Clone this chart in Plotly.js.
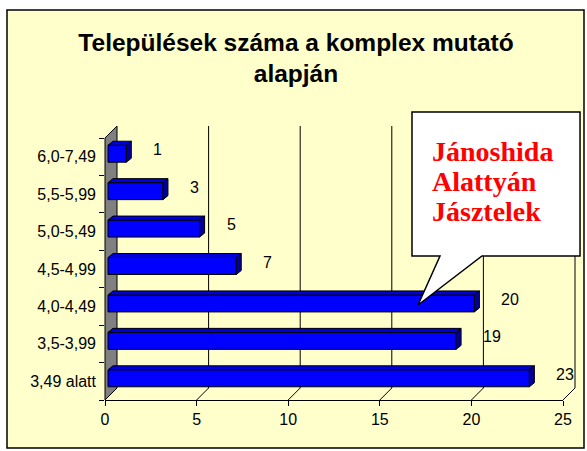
<!DOCTYPE html>
<html><head><meta charset="utf-8">
<script src="https://cdn.plot.ly/plotly-3.0.1.min.js"></script>
<style>html,body{margin:0;padding:0;background:#fff}#chart{width:587px;height:451px}</style>
</head><body><div id="chart"></div>
<script>
// ---- data ----
const categories = ["3,49 alatt","3,5-3,99","4,0-4,49","4,5-4,99","5,0-5,49","5,5-5,99","6,0-7,49"];
const counts = [23, 19, 20, 7, 5, 3, 1];
const xTicks = [0, 5, 10, 15, 20, 25];
const calloutTowns = ["Jánoshida", "Alattyán", "Jásztelek"];
const titleText = "Települések száma a komplex mutató<br>alapján";

// ---- geometry (pixels) ----
const W = 587, H = 451;
const FX0 = 105, FX1 = 563, FYB = 400, FYT = 138, DEPTH = 12;
const PL = 100, PR = 582, PT = 120, PB = 404;
const PW = PR - PL, PH = PB - PT;
const XMAX = xTicks[xTicks.length - 1];
const NC = categories.length;
const PXU = (FX1 - FX0) / XMAX;
const PXC = (FYB - FYT) / NC;
const ux = p => p / PXU, uy = p => p / PXC;
const BAR_W = uy(17), BAR_BASE = ux(3), BAR_LIFT = uy(3), BDX = ux(5), BDY = uy(4);
const WDX = ux(DEPTH), WDY = uy(DEPTH);
const px2x = px => (px - PL) / PW, px2y = py => (PB - py) / PH;
const f = v => v.toFixed(4);
const FONT = "Arial, 'Liberation Sans', sans-serif";
const SERIF = "'Times New Roman', 'Liberation Serif', serif";

const shapes = [];
// chart frame
shapes.push({type:'rect', xref:'paper', yref:'paper', layer:'below',
  x0:px2x(7), x1:px2x(584), y0:px2y(448), y1:px2y(10),
  fillcolor:'#FFFFCC', line:{color:'#000', width:1.5}});
// wall
shapes.push({type:'path', xref:'x', yref:'y', layer:'below',
  path:`M0,${f(-0.5)} L${f(WDX)},${f(-0.5+WDY)} L${f(WDX)},${f(NC-0.5+WDY)} L0,${f(NC-0.5)} Z`,
  fillcolor:'#808080', line:{color:'#000', width:1}});
// floor lines + back gridlines
xTicks.forEach(t => {
  if (t === 0) return;
  shapes.push({type:'line', xref:'x', yref:'y', layer:'below',
    x0:t, y0:-0.5, x1:t+WDX, y1:-0.5+WDY, line:{color:'#000', width:1}});
  shapes.push({type:'line', xref:'x', yref:'y', layer:'below',
    x0:t+WDX, y0:-0.5+WDY, x1:t+WDX, y1:NC-0.5+WDY, line:{color:'#000', width:1}});
});
// 3D faces of bars
counts.forEach((v, i) => {
  const y0 = i - BAR_W/2 + BAR_LIFT, y1 = y0 + BAR_W;
  const x0 = BAR_BASE, x1 = BAR_BASE + v;
  shapes.push({type:'path', xref:'x2', yref:'y2', layer:'above',
    path:`M${f(x0)},${f(y1)} L${f(x1)},${f(y1)} L${f(x1+BDX)},${f(y1+BDY)} L${f(x0+BDX)},${f(y1+BDY)} Z`,
    fillcolor:'#0000DD', line:{color:'#000', width:1}});
  shapes.push({type:'path', xref:'x2', yref:'y2', layer:'above',
    path:`M${f(x1)},${f(y0)} L${f(x1)},${f(y1)} L${f(x1+BDX)},${f(y1+BDY)} L${f(x1+BDX)},${f(y0+BDY)} Z`,
    fillcolor:'#000099', line:{color:'#000', width:1}});
});
// callout
const co = [[412,112],[580,112],[580,256],[482,256],[418,305],[440,256],[412,256]];
shapes.push({type:'path', xref:'paper', yref:'paper', layer:'above',
  path: co.map((p, k) => (k ? 'L' : 'M') + f(px2x(p[0])) + ',' + f(px2y(p[1]))).join(' ') + ' Z',
  fillcolor:'#FFFFFF', line:{color:'#000', width:1.5}});

const annotations = [];
counts.forEach((v, i) => {
  annotations.push({xref:'x2', yref:'y2', x: BAR_BASE + v + BDX, y: categories[i],
    xanchor:'left', yanchor:'middle', xshift:20, yshift:7, showarrow:false,
    text:String(v), font:{family:FONT, size:16, color:'#000'}});
});
calloutTowns.forEach((t, k) => {
  annotations.push({xref:'paper', yref:'paper', x: px2x(430), y: px2y(151.5 + 30*k),
    xanchor:'left', yanchor:'middle', showarrow:false,
    text:t, font:{family:SERIF, size:28, color:'#FF0000', weight:'bold'}});
});

const data = [{
  type:'bar', orientation:'h', x:counts, y:categories, xaxis:'x2', yaxis:'y2',
  base:BAR_BASE, width:BAR_W, offset:-BAR_W/2 + BAR_LIFT,
  marker:{color:'#0000FF', line:{color:'#000', width:1}}, hoverinfo:'skip'
}];

const layout = {
  width:W, height:H,
  margin:{l:PL, r:W-PR, t:PT, b:H-PB, pad:0},
  paper_bgcolor:'#FFFFFF', plot_bgcolor:'rgba(0,0,0,0)',
  showlegend:false, hovermode:false,
  title:{text:titleText, x:296/W, xref:'container', xanchor:'center',
    y:1 - 50.5/H, yref:'container', yanchor:'top',
    font:{family:FONT, size:24.5, color:'#000', weight:'bold'}},
  xaxis:{domain:[0,1], anchor:'y', range:[ux(PL-FX0), ux(PR-FX0)], visible:false, fixedrange:true},
  yaxis:{domain:[0,1], anchor:'x', type:'linear', range:[-0.5+uy(FYB-PB), -0.5+uy(FYB-PT)], visible:false, fixedrange:true},
  xaxis2:{domain:[px2x(FX0), px2x(FX1)], anchor:'y2', range:[0, XMAX], tickvals:xTicks,
    ticks:'outside', ticklen:5, tickwidth:1, tickcolor:'#000',
    showline:true, linecolor:'#000', linewidth:1, showgrid:false, zeroline:false,
    tickfont:{family:FONT, size:16, color:'#000'}, fixedrange:true},
  yaxis2:{domain:[px2y(FYB), px2y(FYT)], anchor:'x2', type:'category',
    categoryorder:'array', categoryarray:categories, range:[-0.5, NC-0.5],
    tickson:'boundaries', ticks:'outside', ticklen:5, tickwidth:1, tickcolor:'#000',
    ticklabelstandoff:8,
    showline:false, showgrid:false, zeroline:false,
    tickfont:{family:FONT, size:16, color:'#000'}, fixedrange:true},
  shapes, annotations
};

Plotly.newPlot('chart', data, layout, {staticPlot:true, displayModeBar:false});
</script>
</body></html>
